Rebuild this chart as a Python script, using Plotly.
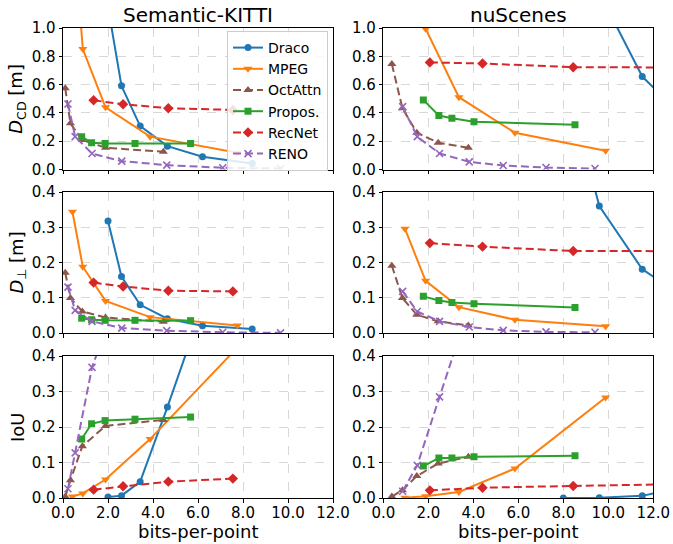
import plotly.graph_objects as go

# ---------------- data ----------------
methods = ["Draco", "MPEG", "OctAttn", "Propos.", "RecNet", "RENO"]

# Semantic-KITTI
kitti_bpp = {
    "Draco":   [2.0, 2.6, 3.43, 4.64, 6.2, 8.41],
    "MPEG":    [0.42, 0.88, 1.89, 3.87, 7.75],
    "OctAttn": [0.1, 0.33, 0.86, 1.89, 4.46],
    "Propos.": [0.83, 1.27, 1.87, 3.2, 5.67],
    "RecNet":  [1.36, 2.67, 4.68, 7.55],
    "RENO":    [0.22, 0.54, 1.29, 2.61, 4.61, 7.1, 9.67],
}
kitti_dcd = {
    "Draco":   [1.15, 0.591, 0.307, 0.165, 0.09, 0.043],
    "MPEG":    [1.8, 0.851, 0.44, 0.232, 0.118],
    "OctAttn": [0.574, 0.326, 0.208, 0.154, 0.125],
    "Propos.": [0.232, 0.189, 0.184, 0.184, 0.184],
    "RecNet":  [0.489, 0.461, 0.433, 0.421],
    "RENO":    [0.463, 0.232, 0.113, 0.059, 0.031, 0.012, 0.007],
}
kitti_dperp = {
    "Draco":   [0.318, 0.16, 0.08, 0.0405, 0.0207, 0.0113],
    "MPEG":    [0.344, 0.188, 0.091, 0.045, 0.0216],
    "OctAttn": [0.171, 0.099, 0.061, 0.044, 0.032],
    "Propos.": [0.042, 0.0376, 0.036, 0.036, 0.035],
    "RecNet":  [0.143, 0.132, 0.12, 0.118],
    "RENO":    [0.13, 0.064, 0.033, 0.014, 0.0066, 0.002, 0.0005],
}
kitti_iou = {
    "Draco":   [0.003, 0.0066, 0.046, 0.256, 0.54, 0.7],
    "MPEG":    [0.004, 0.013, 0.052, 0.166, 0.424],
    "OctAttn": [0.004, 0.05, 0.146, 0.203, 0.22],
    "Propos.": [0.166, 0.209, 0.218, 0.222, 0.228],
    "RecNet":  [0.0235, 0.033, 0.046, 0.0546],
    "RENO":    [0.026, 0.127, 0.368, 0.6, 0.75, 0.85, 0.9],
}

# nuScenes
nus_bpp = {
    "Draco":   [8.0, 9.6, 11.51, 13.5],
    "MPEG":    [0.96, 1.88, 3.36, 5.85, 9.88],
    "OctAttn": [0.38, 0.85, 1.49, 2.44, 3.78],
    "Propos.": [1.78, 2.47, 3.05, 4.03, 8.52],
    "RecNet":  [2.07, 4.41, 8.44, 16.0],
    "RENO":    [0.86, 1.51, 2.5, 3.82, 5.33, 7.23, 9.41],
}
nus_dcd = {
    "Draco":   [2.2, 1.25, 0.657, 0.345],
    "MPEG":    [2.2, 0.995, 0.511, 0.26, 0.132],
    "OctAttn": [0.745, 0.433, 0.26, 0.189, 0.154],
    "Propos.": [0.492, 0.381, 0.362, 0.338, 0.317],
    "RecNet":  [0.757, 0.749, 0.723, 0.72],
    "RENO":    [0.444, 0.232, 0.113, 0.054, 0.028, 0.014, 0.007],
}
nus_dperp = {
    "Draco":   [0.75, 0.36, 0.181, 0.095],
    "MPEG":    [0.296, 0.148, 0.0734, 0.0376, 0.0188],
    "OctAttn": [0.191, 0.099, 0.052, 0.033, 0.0216],
    "Propos.": [0.104, 0.092, 0.0866, 0.083, 0.0725],
    "RecNet":  [0.255, 0.245, 0.2325, 0.232],
    "RENO":    [0.118, 0.061, 0.033, 0.017, 0.0075, 0.003, 0.002],
}
nus_iou = {
    "Draco":   [0.0, 0.001, 0.006, 0.034],
    "MPEG":    [0.001, 0.005, 0.017, 0.083, 0.283],
    "OctAttn": [0.004, 0.022, 0.062, 0.097, 0.116],
    "Propos.": [0.09, 0.113, 0.113, 0.116, 0.119],
    "RecNet":  [0.0216, 0.029, 0.034, 0.042],
    "RENO":    [0.019, 0.092, 0.285, 0.54, 0.7, 0.8, 0.85],
}

dataset_titles = ["Semantic-KITTI", "nuScenes"]
row_labels = ["<i>D</i><sub>CD</sub> [m]", "<i>D</i><sub>⊥</sub> [m]", "IoU"]
x_ticks = [0, 2, 4, 6, 8, 10, 12]
y_ranges = [[0, 1.0], [0, 0.4], [0, 0.4]]
y_dticks = [0.2, 0.1, 0.1]

# ---------------- style ----------------
colors = {"Draco": "#1f77b4", "MPEG": "#ff7f0e", "OctAttn": "#8c564b",
          "Propos.": "#2ca02c", "RecNet": "#d62728", "RENO": "#9467bd"}
symbols = {"Draco": "circle", "MPEG": "triangle-down", "OctAttn": "triangle-up",
           "Propos.": "square", "RecNet": "diamond", "RENO": "x-thin"}
msize = {"Draco": 7, "MPEG": 8, "OctAttn": 8, "Propos.": 7, "RecNet": 8, "RENO": 7}
dashes = {"Draco": "solid", "MPEG": "solid", "OctAttn": "8px,4px",
          "Propos.": "solid", "RecNet": "8px,4px", "RENO": "8px,4px"}

W, H = 673, 544
x_dom = [[63 / W, 333 / W], [383.3 / W, 653.3 / W]]
y_px = [[28, 169.5], [192, 333], [356, 498]]
y_dom = [[1 - b / H, 1 - t / H] for t, b in y_px]

fig = go.Figure()
grid = [
    [(kitti_bpp, kitti_dcd), (nus_bpp, nus_dcd)],
    [(kitti_bpp, kitti_dperp), (nus_bpp, nus_dperp)],
    [(kitti_bpp, kitti_iou), (nus_bpp, nus_iou)],
]

layout = {}
idx = 0
for r in range(3):
    for c in range(2):
        idx += 1
        sfx = "" if idx == 1 else str(idx)
        bpp, vals = grid[r][c]
        for m in methods:
            mk = dict(symbol=symbols[m], size=msize[m], color=colors[m])
            if m == "RENO":
                mk["line"] = dict(width=1.6, color=colors[m])
            fig.add_trace(go.Scatter(
                x=bpp[m], y=vals[m], mode="lines+markers", name=m,
                line=dict(color=colors[m], width=2, dash=dashes[m]),
                marker=mk, xaxis="x" + sfx, yaxis="y" + sfx,
                showlegend=(idx == 1), legendgroup=m,
            ))
        layout["xaxis" + sfx] = dict(
            domain=x_dom[c], anchor="y" + sfx, range=[0, 12], automargin=False,
            tickvals=x_ticks, tickformat=".1f", showticklabels=(r == 2),
            ticks="outside", ticklen=3.5, tickcolor="black", ticklabelstandoff=-3,
            showline=True, linecolor="black", linewidth=1, mirror=True,
            showgrid=True, gridcolor="#d8d8d8", griddash="dash", gridwidth=1,
            zeroline=False, tickfont=dict(size=15, color="black"),
        )
        layout["yaxis" + sfx] = dict(
            domain=y_dom[r], anchor="x" + sfx, range=y_ranges[r], automargin=False,
            dtick=y_dticks[r], tick0=0, tickformat=".1f",
            ticks="outside", ticklen=3.5, tickcolor="black",
            showline=True, linecolor="black", linewidth=1, mirror=True,
            showgrid=True, gridcolor="#d8d8d8", griddash="dash", gridwidth=1,
            zeroline=False, tickfont=dict(size=15, color="black"),
        )

annotations = []
for c in range(2):
    annotations.append(dict(
        text=dataset_titles[c], xref="paper", yref="paper",
        x=(x_dom[c][0] + x_dom[c][1]) / 2, y=1 - 15 / H,
        xanchor="center", yanchor="middle", showarrow=False,
        font=dict(size=20, color="black"),
    ))
    annotations.append(dict(
        text="bits-per-point", xref="paper", yref="paper",
        x=(x_dom[c][0] + x_dom[c][1]) / 2, y=1 - 531 / H,
        xanchor="center", yanchor="middle", showarrow=False,
        font=dict(size=18, color="black"),
    ))
for r in range(3):
    annotations.append(dict(
        text=row_labels[r], xref="paper", yref="paper",
        x=17 / W, y=(y_dom[r][0] + y_dom[r][1]) / 2,
        xanchor="center", yanchor="middle", showarrow=False, textangle=-90,
        font=dict(size=18, color="black"),
    ))

fig.update_layout(
    **layout,
    annotations=annotations,
    width=W, height=H,
    margin=dict(l=0, r=0, t=0, b=0, autoexpand=False),
    plot_bgcolor="white", paper_bgcolor="white",
    font=dict(family="DejaVu Sans", color="black"),
    legend=dict(
        x=328 / W, y=1 - 31 / H, xanchor="right", yanchor="top",
        bgcolor="rgba(255,255,255,0.85)", bordercolor="#cccccc", borderwidth=1,
        font=dict(size=14, color="black"), tracegroupgap=0,
        itemwidth=30,
    ),
)

post = (
    "document.documentElement.style.margin='0';"
    "document.body.style.margin='0';document.body.style.overflow='hidden';"
)
fig.write_html(
    "out.html",
    config={"displayModeBar": False},
    post_script=post,
)
